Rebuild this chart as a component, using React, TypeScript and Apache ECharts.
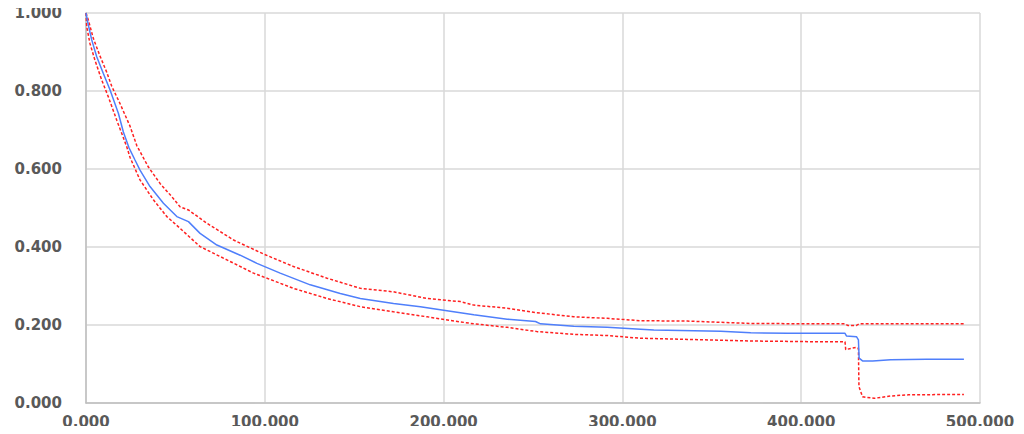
import React, { useEffect, useRef } from "react";
import * as echarts from "echarts";

// x values in thousands, y survival
const estimateX = [0, 1.3, 3.2, 6, 9.7, 13.4, 18.1, 20.9, 24, 27.4, 30.2, 35.8, 43.3, 50.8, 57.3, 63.8, 73.2, 86.2, 95.6, 108.6, 125.4, 142.2, 153.4, 172, 187, 200, 216.9, 235.6, 251.4, 254.2, 272.8, 291.5, 310.2, 317.6, 355, 371.8, 392.3, 424.4, 425.3, 430.9, 432, 432.4, 434.3, 440, 450, 470, 491];
const estimateY = [1.0, 0.969, 0.931, 0.888, 0.845, 0.803, 0.743, 0.695, 0.655, 0.623, 0.597, 0.555, 0.512, 0.478, 0.465, 0.435, 0.405, 0.379, 0.358, 0.333, 0.303, 0.281, 0.268, 0.255, 0.247, 0.238, 0.226, 0.215, 0.209, 0.203, 0.197, 0.194, 0.189, 0.187, 0.184, 0.180, 0.179, 0.179, 0.172, 0.170, 0.162, 0.115, 0.108, 0.108, 0.111, 0.112, 0.112];

const upperX = [0, 1.3, 4.1, 7.8, 11.6, 14.4, 19, 24.6, 28.4, 34.9, 41.4, 48, 52.6, 57.3, 67.6, 82.5, 99.3, 116, 134.8, 153.4, 172, 190.8, 209.4, 216.9, 235.6, 251.4, 272.8, 291.5, 310.2, 336.3, 371.8, 411, 424.5, 426, 430.9, 432.5, 491];
const upperY = [1.0, 0.982, 0.935, 0.89, 0.848, 0.812, 0.768, 0.71, 0.66, 0.605, 0.563, 0.529, 0.503, 0.495, 0.461, 0.418, 0.382, 0.35, 0.32, 0.294, 0.285, 0.268, 0.26, 0.251, 0.243, 0.232, 0.221, 0.217, 0.211, 0.21, 0.204, 0.203, 0.203, 0.199, 0.199, 0.203, 0.203];

const lowerX = [0, 0.4, 2.2, 5, 8.8, 12.5, 17.2, 22.8, 24.6, 30.2, 37.7, 45.2, 52.6, 63.8, 78.8, 93.7, 108.6, 116, 134.8, 153.4, 172, 190.8, 209.4, 216.9, 235.6, 252.3, 272.8, 291.5, 310.2, 336.3, 371.8, 411, 424.5, 424.9, 430.9, 432, 432.3, 434.3, 440.8, 450, 460, 491];
const lowerY = [1.0, 0.965, 0.922, 0.879, 0.828, 0.785, 0.725, 0.657, 0.63, 0.572, 0.521, 0.478, 0.448, 0.401, 0.367, 0.333, 0.307, 0.294, 0.268, 0.247, 0.234, 0.221, 0.208, 0.203, 0.194, 0.183, 0.176, 0.173, 0.166, 0.163, 0.159, 0.157, 0.157, 0.137, 0.143, 0.14, 0.042, 0.016, 0.012, 0.018, 0.021, 0.022];

const zip = (xs: number[], ys: number[]) => xs.map((x, i) => [x, ys[i]]);

export default function App() {
  const ref = useRef<HTMLDivElement>(null);
  useEffect(() => {
    if (!ref.current) return;
    const chart = echarts.init(ref.current, undefined, { renderer: "svg" });
    const labelStyle = {
      color: "#595959",
      fontFamily: "DejaVu Sans",
      fontWeight: "bold" as const,
      fontSize: 15,
      formatter: (v: number) => v.toFixed(3),
    };
    chart.setOption({
      animation: false,
      grid: { left: 86, right: 44, top: 13, bottom: 31, containLabel: false },
      xAxis: {
        type: "value",
        min: 0,
        max: 500,
        interval: 100,
        axisLine: { show: true, lineStyle: { color: "#bfbfbf", width: 1.5 } },
        axisTick: { show: false },
        splitLine: { show: true, lineStyle: { color: "#d9d9d9", width: 1.5 } },
        axisLabel: { ...labelStyle, margin: 11 },
      },
      yAxis: {
        type: "value",
        min: 0,
        max: 1,
        interval: 0.2,
        axisLine: { show: true, lineStyle: { color: "#bfbfbf", width: 1.5 } },
        axisTick: { show: false },
        splitLine: { show: true, lineStyle: { color: "#d9d9d9", width: 1.5 } },
        axisLabel: { ...labelStyle, margin: 24 },
      },
      series: [
        {
          type: "line",
          data: zip(upperX, upperY),
          showSymbol: false,
          lineStyle: { color: "#ff2020", width: 1.5, type: [3, 2] },
          z: 2,
        },
        {
          type: "line",
          data: zip(lowerX, lowerY),
          showSymbol: false,
          lineStyle: { color: "#ff2020", width: 1.5, type: [3, 2] },
          z: 2,
        },
        {
          type: "line",
          data: zip(estimateX, estimateY),
          showSymbol: false,
          lineStyle: { color: "#4f7ffb", width: 1.5 },
          z: 3,
        },
      ],
    });
    return () => chart.dispose();
  }, []);
  return <div ref={ref} style={{ width: 1024, height: 434, margin: -8 }} />;
}
